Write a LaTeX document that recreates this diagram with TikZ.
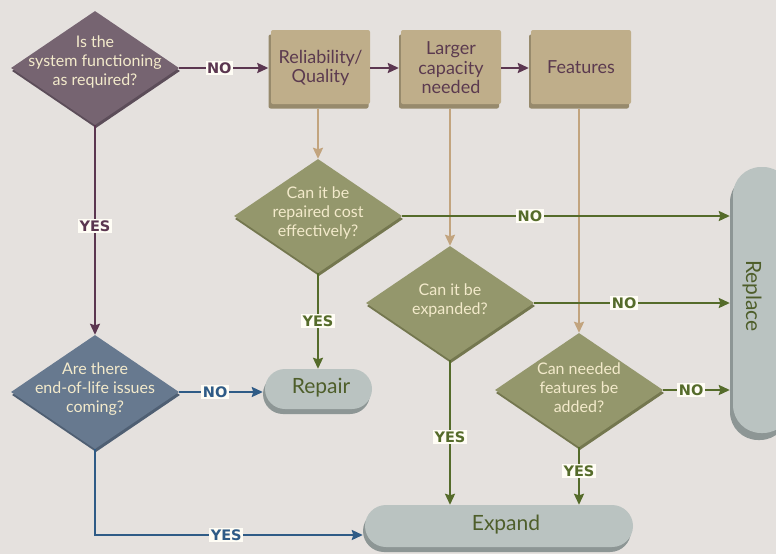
\documentclass[tikz,border=0pt]{standalone}
\usepackage{fontspec}
\setmainfont{Lato}
\newfontfamily\lblfont{DejaVu Sans}
\usetikzlibrary{shapes.geometric,arrows.meta}
\definecolor{bg}{HTML}{E5E1DE}
\definecolor{purp}{HTML}{766471}
\definecolor{purpsh}{HTML}{5C4D59}
\definecolor{purpline}{HTML}{5B3650}
\definecolor{grn}{HTML}{94976C}
\definecolor{grnsh}{HTML}{74774F}
\definecolor{grnline}{HTML}{556B2A}
\definecolor{blu}{HTML}{67798F}
\definecolor{blush}{HTML}{4F5F73}
\definecolor{bluline}{HTML}{2F5B86}
\definecolor{tan}{HTML}{BFAE8A}
\definecolor{tansh}{HTML}{978A6C}
\definecolor{tanline}{HTML}{C2A47E}
\definecolor{pill}{HTML}{BAC3C1}
\definecolor{pillsh}{HTML}{8D9695}
\definecolor{cream}{HTML}{F3EACB}
\definecolor{boxtext}{HTML}{5B3A4F}
\definecolor{pilltext}{HTML}{4E5E2A}
\definecolor{lblbg}{HTML}{FFFDF5}
\begin{document}
\begin{tikzpicture}[x=1pt,y=-1pt,
  dia/.style={diamond, minimum width=168pt, minimum height=114pt, inner sep=0pt},
  dtext/.style={align=center, text=cream, font=\fontsize{16}{19}\selectfont},
  box/.style={rectangle, rounded corners=2pt, minimum width=100pt, minimum height=74pt, inner sep=0pt},
  btext/.style={align=center, text=boxtext, font=\fontsize{18}{19.5}\selectfont},
  pillbox/.style={rectangle, inner sep=0pt, rounded corners=20pt},
  ptext/.style={text=pilltext, font=\fontsize{21}{24}\selectfont},
  lbl/.style={fill=lblbg, inner sep=1.5pt, font=\lblfont\bfseries\fontsize{14.5}{14.5}\selectfont},
  conn/.style={line width=2pt, -{Stealth[length=11pt,width=10pt,inset=1.5pt]}},
]
\useasboundingbox[fill=bg] (0,0) rectangle (776,554);

% ---- top-left purple diamond
\node[dia, fill=purpsh] (d1s) at (96,71) {};
\node[dia, fill=purp] (d1) at (95,68) {};
\node[dtext] (t1) at (95,62) {Is the\\system functioning\\as required?};

% ---- top boxes
\node[box, fill=tansh] (b1s) at (318.5,71.5) {};
\node[box, fill=tan, minimum width=99pt] (b1) at (320.5,67) {};
\node[btext] (tb1) at (320.5,68) {Reliability/\\Quality};

\node[box, fill=tansh] (b2s) at (449,71.5) {};
\node[box, fill=tan] (b2) at (451,67) {};
\node[btext] (tb2) at (451,68) {Larger\\capacity\\needed};

\node[box, fill=tansh] (b3s) at (579,71.5) {};
\node[box, fill=tan] (b3) at (581,67) {};
\node[btext] (tb3) at (581,67) {Features};

% ---- green diamonds
\node[dia, fill=grnsh] (d2s) at (319,219) {};
\node[dia, fill=grn] (d2) at (318,216) {};
\node[dtext] (t2) at (318,213) {Can it be\\repaired cost\\effectively?};

\node[dia, fill=grnsh] (d3s) at (451,306) {};
\node[dia, fill=grn] (d3) at (450,303) {};
\node[dtext] (t3) at (450,300) {Can it be\\expanded?};

\node[dia, fill=grnsh] (d4s) at (580,393) {};
\node[dia, fill=grn] (d4) at (579,390) {};
\node[dtext] (t4) at (579,388) {Can needed\\features be\\added?};

% ---- blue diamond
\node[dia, fill=blush] (d5s) at (96,395) {};
\node[dia, fill=blu] (d5) at (95,392) {};
\node[dtext] (t5) at (95,389) {Are there\\end-of-life issues\\coming?};

% ---- pills
\node[pillbox, fill=pillsh, minimum width=107pt, minimum height=40pt] (reps) at (316.5,394) {};
\node[pillbox, fill=pill, minimum width=107pt, minimum height=40pt] (rep) at (318.5,389) {};
\node[ptext] (trep) at (321,388) {Repair};

\node[pillbox, fill=pillsh, minimum width=268pt, minimum height=42pt, rounded corners=21pt] (exs) at (497,531) {};
\node[pillbox, fill=pill, minimum width=268pt, minimum height=42pt, rounded corners=21pt] (ex) at (499,526) {};
\node[ptext] (tex) at (506,525) {Expand};

\node[pillbox, fill=pillsh, minimum width=58pt, minimum height=266pt, rounded corners=28pt] (rpls) at (759,307) {};
\node[pillbox, fill=pill, minimum width=58pt, minimum height=266pt, rounded corners=28pt] (rpl) at (762,300) {};
\node[ptext, rotate=-90] (trpl) at (752,296) {Replace};

% ---- purple connectors
\draw[conn, purpline] (d1.east) -- (d1.east -| b1s.west)
  node[lbl, text=purpline, pos=0.45] (l1) {NO};
\draw[conn, purpline] (b1.east |- tb1) -- (b2s.west |- tb1) coordinate (c1);
\draw[conn, purpline] (b2.east |- tb1) -- (b3s.west |- tb1) coordinate (c2);
\draw[conn, purpline] (d1.south) -- (d5.north)
  node[lbl, text=purpline, pos=0.48] (l2) {YES};

% ---- tan connectors
\draw[conn, tanline] (d2.north |- b1s.south) -- (d2.north);
\draw[conn, tanline] (d3.north |- b2s.south) -- (d3.north);
\draw[conn, tanline] (d4.north |- b3s.south) -- (d4.north);

% ---- green connectors
\draw[conn, grnline] (d2.east) -- (d2.east -| rpls.west)
  node[lbl, text=grnline, pos=0.39] (l3) {NO};
\draw[conn, grnline] (d3.east) -- (d3.east -| rpls.west)
  node[lbl, text=grnline, pos=0.46] (l4) {NO};
\draw[conn, grnline] (d4.east) -- (d4.east -| rpls.west)
  node[lbl, text=grnline, pos=0.42] (l5) {NO};
\draw[conn, grnline] (d2.south) -- (d2.south |- rep.north)
  node[lbl, text=grnline, pos=0.5] (l6) {YES};
\draw[conn, grnline] (d3.south) -- (d3.south |- ex.north)
  node[lbl, text=grnline, pos=0.53] (l7) {YES};
\draw[conn, grnline] (d4.south) -- (d4.south |- ex.north)
  node[lbl, text=grnline, pos=0.42] (l8) {YES};

% ---- blue connectors
\draw[conn, bluline] (d5.east) -- (d5.east -| reps.west)
  node[lbl, text=bluline, pos=0.43] (l9) {NO};
\draw[conn, bluline] (d5.south) |- ([yshift=-4pt]exs.west)
  node[lbl, text=bluline, pos=0.745] (l10) {YES};
\end{tikzpicture}
\end{document}
